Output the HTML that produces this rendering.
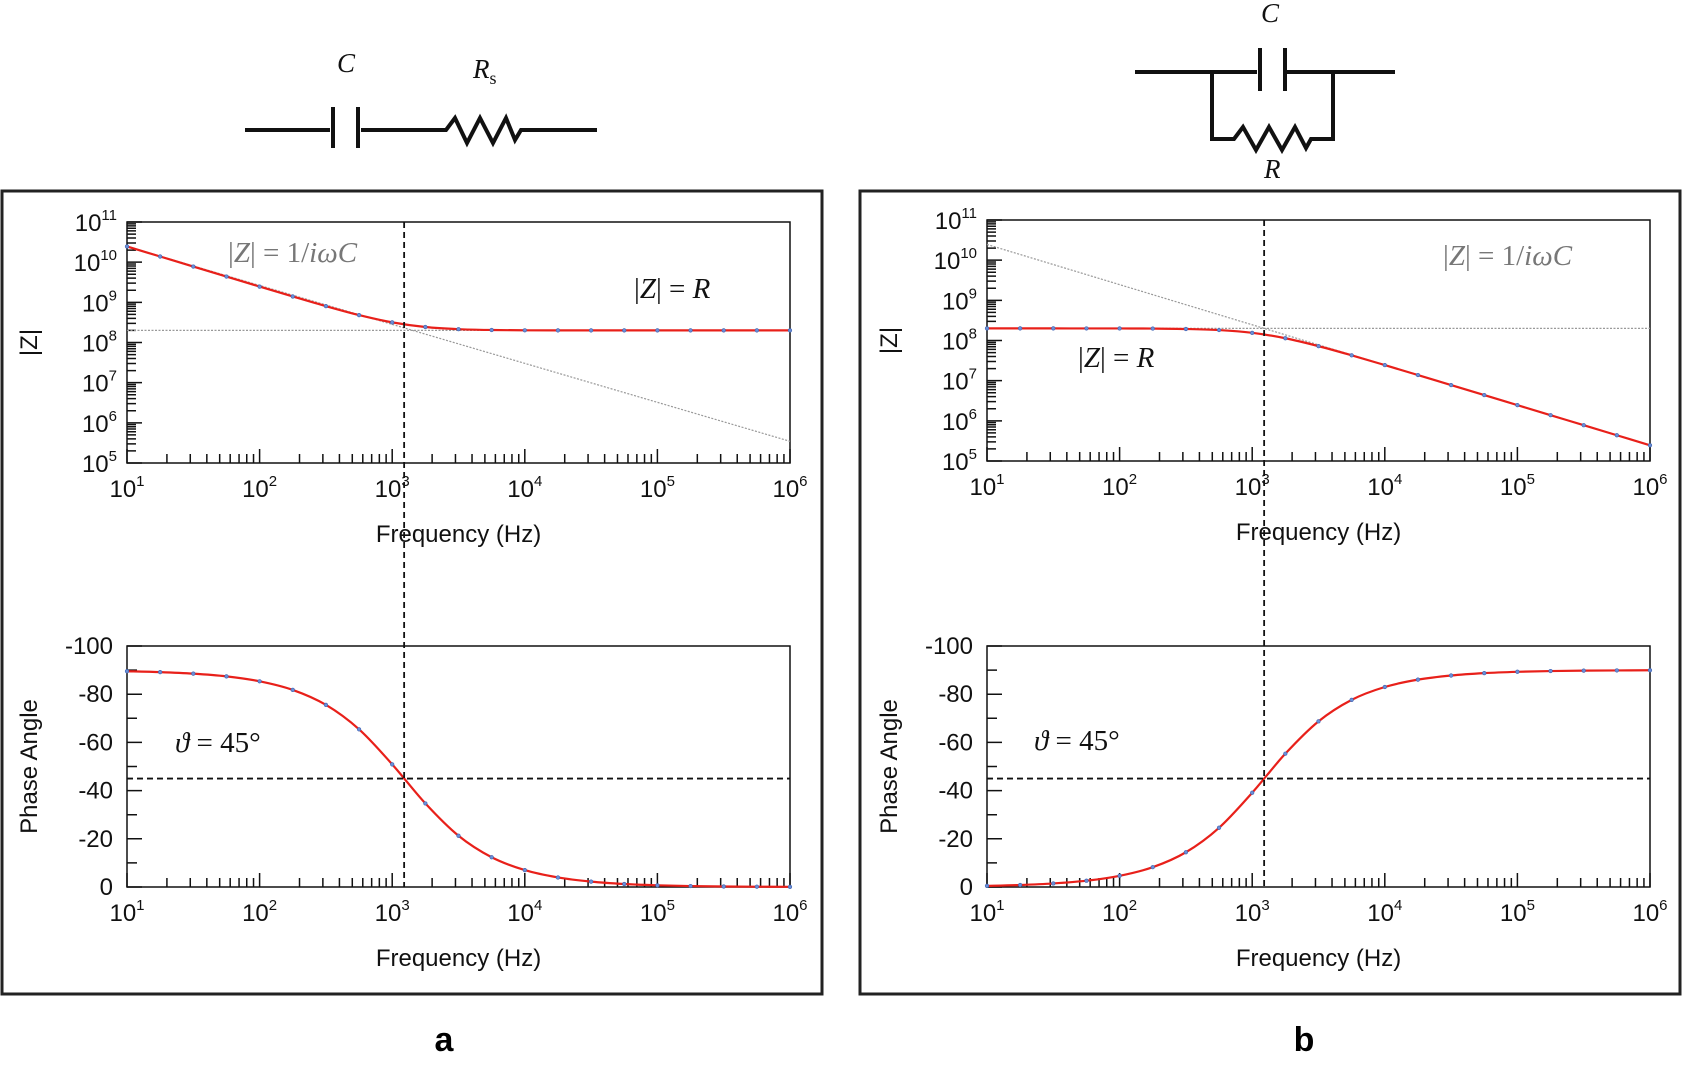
<!DOCTYPE html>
<html><head><meta charset="utf-8"><style>
html,body{margin:0;padding:0;background:#fff;}
svg{display:block;font-family:"Liberation Sans",Arial,sans-serif;}
</style></head><body>
<svg id="fig" width="1684" height="1067" viewBox="0 0 1684 1067" xmlns="http://www.w3.org/2000/svg">
<g id="circ" stroke="#111" stroke-width="4" fill="none">
 <g>
  <path d="M245 130H330M333 107V148M358 107V148M361 130H446L455 118L467 143L480 118L493 143L506 118L515 140L521 130H597"/>
 </g>
 <g>
  <path d="M1135 72H1257M1260 48V91M1285 48V91M1285 72H1395M1212 72V139H1234L1243 127L1256 150L1269 127L1282 150L1295 127L1306 148L1311 139H1333V72"/>
 </g>
</g>
<g font-family="Liberation Serif,DejaVu Serif,serif" font-style="italic" font-size="27" fill="#111">
 <text x="337" y="72">C</text>
 <text x="473" y="78">R<tspan font-size="18" font-style="normal" dy="6">s</tspan></text>
 <text x="1261" y="22">C</text>
 <text x="1264" y="178">R</text>
</g>
<rect x="2" y="191" width="820" height="803" fill="none" stroke="#222" stroke-width="3"/>
<rect x="860" y="191" width="820" height="803" fill="none" stroke="#222" stroke-width="3"/>
<text x="444" y="1051" font-size="34" font-weight="bold" text-anchor="middle">a</text>
<text x="1304" y="1051" font-size="34" font-weight="bold" text-anchor="middle">b</text>
</svg>
<script>
// log10 frequency samples
const logF = [1,1.25,1.5,1.75,2,2.25,2.5,2.75,3,3.25,3.5,3.75,4,4.25,4.5,4.75,5,5.25,5.5,5.75,6];
// panel a: series RC
const zA = [10.391,10.141,9.891,9.642,9.392,9.146,8.905,8.682,8.501,8.386,8.332,8.311,8.304,8.302,8.301,8.301,8.301,8.301,8.301,8.301,8.301];
const phA = [89.53,89.17,88.53,87.39,85.35,81.78,75.58,65.43,50.89,34.68,21.26,12.34,7.01,3.96,2.23,1.25,0.70,0.39,0.22,0.13,0.07];
// panel b: parallel RC
const zB = [8.301,8.301,8.301,8.3005,8.300,8.297,8.287,8.260,8.191,8.056,7.860,7.631,7.388,7.140,6.890,6.641,6.391,6.141,5.891,5.641,5.391];
const phB = [0.47,0.83,1.47,2.61,4.65,8.22,14.42,24.57,39.11,55.32,68.74,77.66,82.99,86.04,87.77,88.75,89.30,89.61,89.78,89.87,89.93];
const logR = 8.301, logFc = 3.09;
const xTicks = [1,2,3,4,5,6];
const zTicks = [5,6,7,8,9,10,11];
const phTicks = [0,20,40,60,80,100];

const NS="http://www.w3.org/2000/svg", svg=document.getElementById('fig');
function el(t,a,p){const e=document.createElementNS(NS,t);for(const k in a)e.setAttribute(k,a[k]);(p||svg).appendChild(e);return e;}
function txt(x,y,s,a,p){const e=el('text',Object.assign({x:x,y:y,'font-size':23,fill:'#111'},a||{}),p);e.innerHTML=s;return e;}
function smooth(P){
  let d=`M${P[0][0]} ${P[0][1]}`;
  for(let i=0;i<P.length-1;i++){
    const p0=P[Math.max(i-1,0)],p1=P[i],p2=P[i+1],p3=P[Math.min(i+2,P.length-1)];
    const c1=[p1[0]+(p2[0]-p0[0])/6,p1[1]+(p2[1]-p0[1])/6];
    const c2=[p2[0]-(p3[0]-p1[0])/6,p2[1]-(p3[1]-p1[1])/6];
    d+=`C${c1[0]} ${c1[1]} ${c2[0]} ${c2[1]} ${p2[0]} ${p2[1]}`;
  }
  return d;
}

function panel(px, topY, botY, zs, phs, isA){
  const x0=px, x1=px+663, H=241;
  const X=l=>x0+(l-1)/5*(x1-x0);
  const g=el('g',{});
  
  
  const Yz=v=>topY+(11-v)/6*H;
  const Yp=v=>botY+(100-v)/100*H;
  [[Yz,topY,'impedance'],[Yp,botY,'phase']].forEach(([Y,ty,nm])=>{
    const r=el('rect',{x:x0,y:ty,width:x1-x0,height:H,fill:'none',stroke:'#111','stroke-width':1.5},g);
    
    
    let d='';
    for(let dec=1;dec<6;dec++){for(let k=1;k<10;k++){const xx=X(dec+Math.log10(k));d+=`M${xx} ${ty+H}v${k==1?-14:-9}`;}}
    d+=`M${x1} ${ty+H}v-14`;
    el('path',{d:d,stroke:'#111','stroke-width':1.5,fill:'none'},g);
    xTicks.forEach(t=>{const e=txt(X(t),ty+H+34,`10<tspan font-size="15" dy="-11">${t}</tspan>`,{'text-anchor':'middle','font-size':24},g);
      
      });
    const ft=txt((x0+x1)/2,ty+H+79,'Frequency (Hz)',{'text-anchor':'middle','font-size':24},g);
    
    
  });
  let d='';
  zTicks.forEach(t=>{d+=`M${x0} ${Yz(t)}h15`; if(t<11){for(let k=2;k<10;k++){d+=`M${x0} ${Yz(t+Math.log10(k))}h9`;}}});
  el('path',{d:d,stroke:'#111','stroke-width':1.5},g);
  zTicks.forEach(t=>{const e=txt(x0-10,Yz(t)+9,`10<tspan font-size="15" dy="-11">${t}</tspan>`,{'text-anchor':'end','font-size':24},g);
    
    });
  d='';
  phTicks.forEach(t=>{d+=`M${x0} ${Yp(t)}h15`; if(t<100)d+=`M${x0} ${Yp(t+10)}h10`;});
  el('path',{d:d,stroke:'#111','stroke-width':1.5},g);
  phTicks.forEach(t=>{const e=txt(x0-14,Yp(t)+8,t==0?'0':'-'+t,{'text-anchor':'end','font-size':24},g);
    
    });
  const ty1=txt(0,0,'|Z|',{'text-anchor':'middle','font-size':24,transform:`translate(${x0-90},${(topY+topY+H)/2}) rotate(-90)`},g);
  
  
  const ty2=txt(0,0,'Phase Angle',{'text-anchor':'middle','font-size':24,transform:`translate(${x0-90},${(botY+botY+H)/2}) rotate(-90)`},g);
  
  
  const hr=el('line',{x1:x0,x2:x1,y1:Yz(logR),y2:Yz(logR),stroke:'#999','stroke-width':1.2,'stroke-dasharray':'2 1.5'},g);
  
  
  const capLine=l=>logR+(logFc-l);
  const dl=el('line',{x1:X(1),y1:Yz(capLine(1)),x2:X(6),y2:Yz(capLine(6))-(isA?6:0),stroke:'#999','stroke-width':1.2,'stroke-dasharray':'2 1.5'},g);
  
  
  [[zs,Yz,'impedance-curve'],[phs,Yp,'phase-curve']].forEach(([vals,Y,nm])=>{
    const P=logF.map((l,i)=>[X(l),Y(vals[i])]);
    const pl=el('path',{d:smooth(P),fill:'none',stroke:'#e8201a','stroke-width':2.2},g);
    
    
    P.forEach(p=>{const c=el('circle',{cx:p[0],cy:p[1],r:1.8,fill:'#6b8fd6',stroke:'#3b5fb0','stroke-width':0.6},g);
      
      });
  });
  const vx=X(logFc);
  const vl=el('line',{x1:vx,x2:vx,y1:topY,y2:botY+H,stroke:'#111','stroke-width':1.8,'stroke-dasharray':'6 4'},g);
  
  
  const hl=el('line',{x1:x0,x2:x1,y1:Yp(45),y2:Yp(45),stroke:'#111','stroke-width':1.8,'stroke-dasharray':'6 4'},g);
  
  
  const a1=txt(isA?228:1443,isA?262:265,'|<tspan font-style="italic">Z</tspan>| =  1/<tspan font-style="italic">iωC</tspan>',{'font-size':29,fill:'#777','font-family':'Liberation Serif,DejaVu Serif,serif'},g);
  
  
  const a2=txt(isA?634:1078,isA?298:367,'|<tspan font-style="italic">Z</tspan>| =  <tspan font-style="italic">R</tspan>',{'font-size':29,fill:'#111','font-family':'Liberation Serif,DejaVu Serif,serif'},g);
  
  
  const a3=txt(isA?175:1034,isA?752:750,'<tspan font-style="italic">ϑ</tspan> = 45°',{'font-size':29,fill:'#111','font-family':'Liberation Serif,DejaVu Serif,serif'},g);
  
  
}
panel(127,222,646,zA,phA,true);
panel(987,220,646,zB,phB,false);
</script>
</body></html>
